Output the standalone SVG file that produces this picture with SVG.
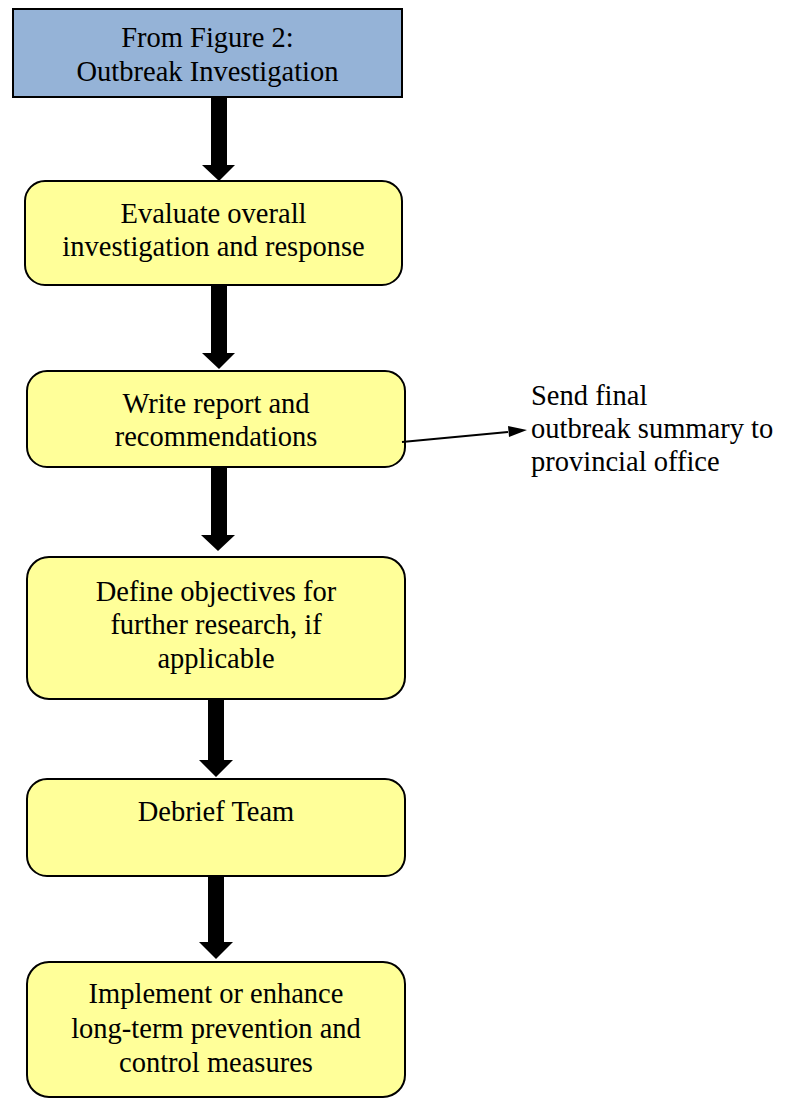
<svg xmlns="http://www.w3.org/2000/svg" width="786" height="1099" viewBox="0 0 786 1099">
<style>
.t{font-family:"Liberation Serif","Times New Roman",serif;font-size:28.5px;fill:#000;text-anchor:middle}
.l{font-family:"Liberation Serif","Times New Roman",serif;font-size:28.5px;fill:#000}
.y{fill:#FFFF99;stroke:#000;stroke-width:2}
.b{fill:#95B3D7;stroke:#000;stroke-width:2}
.a{fill:#000}
</style>
<defs>
<marker id="ah" markerWidth="10" markerHeight="8" refX="9" refY="4" orient="auto" markerUnits="userSpaceOnUse" viewBox="0 0 10 8"><path d="M0,0 L10,4 L0,8 Z" fill="#000"/></marker>
</defs>
<g id="n0"><rect class="b" x="13" y="9" width="389" height="88"/>
<text class="t" x="207.5" y="47">From Figure 2:</text>
<text class="t" x="207.5" y="81">Outbreak Investigation</text></g>
<g id="n1"><rect class="y" x="25" y="181" width="377" height="104" rx="20"/>
<text class="t" x="213.5" y="223">Evaluate overall</text>
<text class="t" x="213.5" y="256">investigation and response</text></g>
<g id="n2"><rect class="y" x="27" y="371" width="378" height="96" rx="20"/>
<text class="t" x="216" y="413">Write report and</text>
<text class="t" x="216" y="446">recommendations</text></g>
<g id="n3"><rect class="y" x="27" y="557" width="378" height="142" rx="22"/>
<text class="t" x="216" y="601">Define objectives for</text>
<text class="t" x="216" y="634">further research, if</text>
<text class="t" x="216" y="668">applicable</text></g>
<g id="n4"><rect class="y" x="27" y="779" width="378" height="97" rx="20"/>
<text class="t" x="216" y="821">Debrief Team</text></g>
<g id="n5"><rect class="y" x="27" y="962" width="378" height="135" rx="22"/>
<text class="t" x="216" y="1003">Implement or enhance</text>
<text class="t" x="216" y="1038">long-term prevention and</text>
<text class="t" x="216" y="1072">control measures</text></g>
<g id="n6">
<text class="l" x="531" y="405">Send final</text>
<text class="l" x="531" y="438">outbreak summary to</text>
<text class="l" x="531" y="471">provincial office</text></g>
<g id="connectors">
<path class="a" d="M211,97 H227 V165 H235 L219,181 L202,165 H211 Z"/>
<path class="a" d="M211,286 H227 V353 H235 L219,369 L202,353 H211 Z"/>
<path class="a" d="M211,468 H227 V535 H235 L218,551 L201,535 H211 Z"/>
<path class="a" d="M208,700 H224 V760 H233 L216,777 L199,760 H208 Z"/>
<path class="a" d="M208,877 H224 V942 H233 L216,959 L199,942 H208 Z"/>
<line x1="402" y1="442" x2="508" y2="432" stroke="#000" stroke-width="2"/>
<path class="a" d="M508,426 L527,430 L509,437 Z"/>
</g>
</svg>
